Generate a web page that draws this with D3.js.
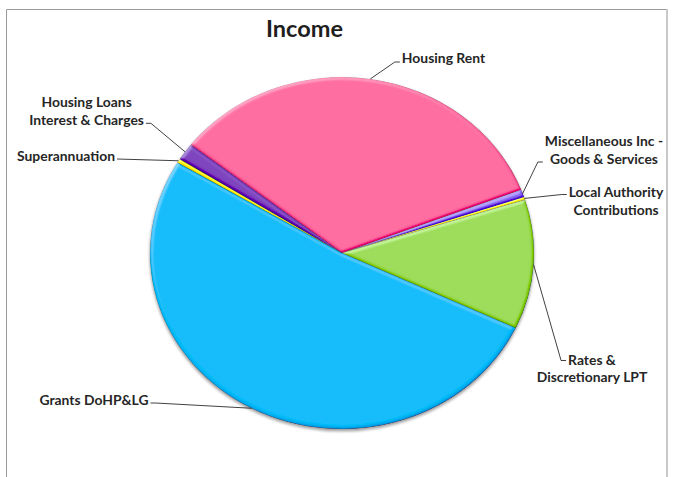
<!DOCTYPE html>
<html>
<head>
<meta charset="utf-8">
<script src="https://cdn.jsdelivr.net/npm/d3@7"></script>
<style>
  html, body { margin: 0; padding: 0; background: #fff; }
  svg { display: block; }
  text { font-family: Lato, "Open Sans", "DejaVu Sans", sans-serif; font-weight: 700; fill: #262626; }
</style>
</head>
<body>
<svg id="chart" width="675" height="477"></svg>
<script>
// Income breakdown, shares of total (%), listed clockwise around the pie
const categories = [
  "Housing Rent",
  "Miscellaneous Inc - Goods & Services",
  "Local Authority Contributions",
  "Rates & Discretionary LPT",
  "Grants DoHP&LG",
  "Superannuation",
  "Housing Loans Interest & Charges"
];
const shares = [33.6, 0.7, 0.25, 11.9, 51.6, 0.35, 1.6];
const labelLines = [
  ["Housing Rent"],
  ["Miscellaneous Inc -", "Goods & Services"],
  ["Local Authority", "Contributions"],
  ["Rates &", "Discretionary LPT"],
  ["Grants DoHP&LG"],
  ["Superannuation"],
  ["Housing Loans", "Interest & Charges"]
];
const sliceColors = ["#FF6C9F", "#8D6FF2", "#FFF200", "#9CDB58", "#00BCF9", "#FFF200", "#7D41BE"];
const chartTitle = "Income";

// Layout
const W = 675, H = 477;
const cx = 342, cy = 253, rx = 192, ry = 176;
const startDeg = 308;
const lineH = 17.8;
const labelSize = "13.9px";
// label block: centre x, first-line centre y, side the leader leaves from, line it attaches to, leader y offset
const labelLayout = [
  { x: 443.5, y: 57.5,  side: "left",  line: 0, dy: 4.5 },
  { x: 604,   y: 140.7, side: "left",  line: 1, dy: 3.5, box: true },
  { x: 616,   y: 191.7, side: "left",  line: 0, dy: 2.8, box: true },
  { x: 592,   y: 359,   side: "left",  line: 0, dy: 1.5 },
  { x: 94,    y: 399,   side: "right", line: 0, dy: 4 },
  { x: 66,    y: 155,   side: "right", line: 0, dy: 4, noElbow: true },
  { x: 86.6,  y: 101.7, side: "right", line: 1, dy: 3.8 }
];

const svg = d3.select("#chart");
const defs = svg.append("defs");

// Soft rounded bevel: blurred alpha used as a height map, lit from the upper left.
// Highlights and shading are split so the lit rim is stronger than the shaded one.
const flat = Math.sin(50 * Math.PI / 180);
const bevel = defs.append("filter").attr("id", "bevel")
  .attr("x", "-5%").attr("y", "-5%").attr("width", "110%").attr("height", "110%");
bevel.append("feGaussianBlur").attr("in", "SourceAlpha").attr("stdDeviation", 1.7).attr("result", "blur");
const diff = bevel.append("feDiffuseLighting").attr("in", "blur").attr("surfaceScale", 2.4)
  .attr("diffuseConstant", 1).attr("lighting-color", "#fff").attr("result", "light");
diff.append("feDistantLight").attr("azimuth", 240).attr("elevation", 50);
bevel.append("feComposite").attr("in", "light").attr("in2", "light")
  .attr("operator", "arithmetic").attr("k1", 0).attr("k2", 1).attr("k3", 0).attr("k4", -flat)
  .attr("result", "hi");
bevel.append("feComposite").attr("in", "light").attr("in2", "light")
  .attr("operator", "arithmetic").attr("k1", 0).attr("k2", -1).attr("k3", 0).attr("k4", flat)
  .attr("result", "lo");
bevel.append("feComposite").attr("in", "SourceGraphic").attr("in2", "hi")
  .attr("operator", "arithmetic").attr("k1", 0).attr("k2", 1).attr("k3", 0.9).attr("k4", 0)
  .attr("result", "lit");
bevel.append("feComposite").attr("in", "lit").attr("in2", "lo")
  .attr("operator", "arithmetic").attr("k1", 0).attr("k2", 1).attr("k3", -0.3).attr("k4", 0)
  .attr("result", "shaded");
bevel.append("feComposite").attr("in", "shaded").attr("in2", "SourceAlpha").attr("operator", "in");

const shadow = defs.append("filter").attr("id", "shadow")
  .attr("x", "-10%").attr("y", "-10%").attr("width", "120%").attr("height", "120%");
shadow.append("feGaussianBlur").attr("stdDeviation", 1.8);

svg.append("rect").attr("width", W).attr("height", H).attr("fill", "#fff");

// chart frame
svg.append("path").attr("d", `M6.5,${H} V9.5 H666`).attr("fill", "none").attr("stroke", "#9a9a9a").attr("stroke-width", 1);
svg.append("path").attr("d", `M667,9 V${H}`).attr("fill", "none").attr("stroke", "#c9c9c9").attr("stroke-width", 2);

// title
svg.append("text").attr("x", 304.5).attr("y", 28).attr("text-anchor", "middle")
  .attr("dominant-baseline", "central").style("font-size", "23.5px").style("fill", "#1e1e1e")
  .text(chartTitle);

const pie = d3.pie().sort(null).value(d => d)
  .startAngle(startDeg * Math.PI / 180).endAngle((startDeg + 360) * Math.PI / 180);
const arcs = pie(shares);
const arc = d3.arc().innerRadius(0).outerRadius(rx);
const rimArc = d3.arc().innerRadius(rx).outerRadius(rx);

const pieG = svg.append("g").attr("transform", `translate(${cx},${cy}) scale(1,${ry / rx})`);

// shadow under the disc
pieG.append("circle").attr("cx", 0).attr("cy", 2.2).attr("r", rx + 0.3)
  .attr("fill", "#000").attr("opacity", 0.38).attr("filter", "url(#shadow)");

pieG.selectAll("path.slice").data(arcs).join("path")
  .attr("class", "slice")
  .attr("d", arc)
  .attr("fill", (d, i) => sliceColors[i])
  .attr("stroke", "rgba(70,70,70,0.3)")
  .attr("stroke-width", 0.6)
  .attr("filter", "url(#bevel)");

// labels and leader lines
const labelG = svg.append("g");
arcs.forEach((d, i) => {
  const L = labelLayout[i];
  const lines = labelLines[i];
  const t = labelG.append("text").attr("text-anchor", "middle").style("font-size", labelSize);
  const tspans = lines.map((s, k) =>
    t.append("tspan").attr("x", L.x).attr("y", L.y + k * lineH).attr("dominant-baseline", "central").text(s));
  // measure the line the leader attaches to (or the whole block)
  let edgeX;
  if (L.box) {
    const bb = t.node().getBBox();
    edgeX = L.side === "left" ? bb.x : bb.x + bb.width;
  } else {
    const w = tspans[L.line].node().getComputedTextLength();
    edgeX = L.side === "left" ? L.x - w / 2 : L.x + w / 2;
  }
  const gap = 2;
  const elbow = 5;
  const sx = L.side === "left" ? edgeX - gap : edgeX + gap;
  const sy = L.y + L.line * lineH + L.dy;
  const ex = L.side === "left" ? sx - elbow : sx + elbow;
  const c = rimArc.centroid(d);
  const px = cx + c[0], py = cy + c[1] * ry / rx;
  const pts = L.noElbow ? [[sx, sy], [px, py]] : [[sx, sy], [ex, sy], [px, py]];
  labelG.append("path").attr("d", d3.line()(pts))
    .attr("fill", "none").attr("stroke", "#2b2b2b").attr("stroke-width", 0.9);
});
</script>
</body>
</html>
